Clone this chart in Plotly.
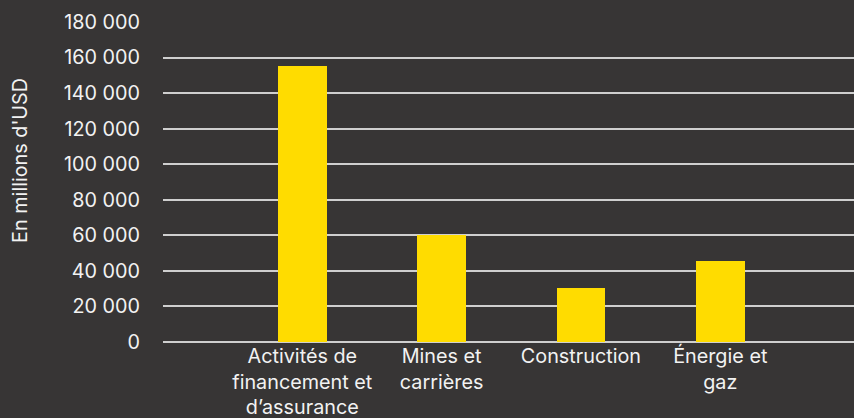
import plotly.graph_objects as go

# Sector labels and values (millions of USD)
categories = [
    "Activités de<br>financement et<br>d’assurance",
    "Mines et<br>carrières",
    "Construction",
    "Énergie et<br>gaz",
]
values = [155300, 60000, 30300, 45600]
y_ticks = [0, 20000, 40000, 60000, 80000, 100000, 120000, 140000, 160000, 180000]
y_tick_text = ["0", "20 000", "40 000", "60 000", "80 000", "100 000",
               "120 000", "140 000", "160 000", "180 000"]

BG = "#373535"
BAR = "#FFDC00"
TXT = "#F2F2F2"
GRID = "#CFCFCF"
FONT = "Inter, Liberation Sans, Arial, sans-serif"
SIZE = 19.8

fig = go.Figure(
    go.Bar(
        x=list(range(len(categories))),
        y=values,
        marker=dict(color=BAR, line=dict(width=0)),
        width=0.35,
    )
)

fig.update_layout(
    width=854,
    height=418,
    paper_bgcolor=BG,
    plot_bgcolor=BG,
    margin=dict(l=163, r=0, t=22, b=76),
    font=dict(family=FONT, size=SIZE, color=TXT),
    showlegend=False,
    bargap=0,
)

fig.update_xaxes(
    range=[-1, 3.96],
    tickmode="array",
    tickvals=list(range(len(categories))),
    ticktext=categories,
    showgrid=False,
    zeroline=False,
    showline=False,
    ticks="",
    tickfont=dict(family=FONT, size=SIZE, color=TXT),
)

fig.update_yaxes(
    range=[0, 180000],
    tickmode="array",
    tickvals=y_ticks,
    ticktext=y_tick_text,
    showgrid=True,
    gridcolor=GRID,
    gridwidth=1.5,
    zeroline=True,
    zerolinecolor=GRID,
    zerolinewidth=1.5,
    showline=False,
    ticks="",
    ticklabelstandoff=22,
    tickfont=dict(family=FONT, size=SIZE, color=TXT),
)

fig.add_annotation(
    text="En millions d'USD",
    xref="paper", yref="paper",
    x=-0.207, y=0.569,
    xanchor="center", yanchor="middle",
    textangle=-90,
    showarrow=False,
    font=dict(family=FONT, size=SIZE, color=TXT),
)

fig.write_html("out.html")
